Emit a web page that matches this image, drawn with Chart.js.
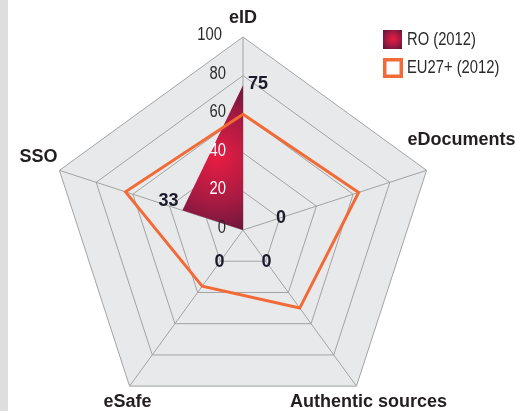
<!DOCTYPE html>
<html>
<head>
<meta charset="utf-8">
<script src="https://cdn.jsdelivr.net/npm/chart.js@4/dist/chart.umd.min.js"></script>
<style>
  html, body { margin: 0; padding: 0; }
  body { width: 515px; height: 411px; overflow: hidden;
         background: linear-gradient(to right, #dedede 8px, #ffffff 8px); }
  #wrap { position: relative; width: 515px; height: 411px; }
  canvas { display: block; }
</style>
</head>
<body>
<div id="wrap"><canvas id="radar" width="515" height="411"></canvas></div>
<script>
// datos
const categorias = ['eID', 'eDocuments', 'Authentic sources', 'eSafe', 'SSO'];
const valoresRO = [75, 0, 0, 0, 33];
const valoresEU = [60, 63, 50, 36, 64];
const series = ['RO (2012)', 'EU27+ (2012)'];
const ticksEje = [0, 20, 40, 60, 80, 100];

const SANS = '"Liberation Sans", Arial, sans-serif';

function gradienteRO(ctx, cx, cy, rad) {
    const g = ctx.createRadialGradient(cx, cy, 0, cx, cy, rad);
    g.addColorStop(0, '#e81d43');
    g.addColorStop(0.55, '#a81a42');
    g.addColorStop(1, '#65173b');
    return g;
}

// texto estrecho (no hay fuente narrow instalada)
function textoEstrecho(ctx, txt, x, y) {
    ctx.save();
    ctx.translate(x, y);
    ctx.scale(0.82, 1);
    ctx.fillText(txt, 0, 0);
    ctx.restore();
}

// etiquetas, ticks y leyenda dibujados a mano
const etiquetasPlugin = {
    id: 'etiquetas',
    afterDatasetsDraw(chart) {
        const ctx = chart.ctx;
        const r = chart.scales.r;
        ctx.save();

        // ticks del eje
        ctx.font = '18px ' + SANS;
        ctx.textAlign = 'right';
        ctx.textBaseline = 'middle';
        r.ticks.forEach(t => {
            const d = r.getDistanceFromCenterForValue(t.value);
            ctx.fillStyle = (t.value === 20 || t.value === 40) ? '#ffffff' : '#2a2a2a';
            const dx = t.value === 100 ? 21 : 17;
            textoEstrecho(ctx, String(t.value), r.xCenter - dx, r.yCenter - d - 2);
        });

        // nombres de los ejes
        const offs = [[0, -19], [35, -30], [12, 16], [-2, 16], [-21, -13]];
        ctx.font = 'bold 18px ' + SANS;
        ctx.fillStyle = '#231f20';
        ctx.textAlign = 'center';
        chart.data.labels.forEach((lab, i) => {
            const p = r.getPointPosition(i, r.drawingArea);
            ctx.fillText(lab, p.x + offs[i][0], p.y + offs[i][1]);
        });

        // valores RO
        ctx.fillStyle = '#1b1b2b';
        valoresRO.forEach((v, i) => {
            if (v === 0) {
                const p = r.getPointPosition(i, 40);
                ctx.textAlign = 'center';
                ctx.fillText('0', p.x, p.y);
            } else {
                const p = r.getPointPositionForValue(i, v);
                if (p.x >= r.xCenter) {
                    ctx.textAlign = 'left';
                    ctx.fillText(String(v), p.x + 5, p.y - 1);
                } else {
                    ctx.textAlign = 'right';
                    ctx.fillText(String(v), p.x - 4, p.y - 9);
                }
            }
        });

        // leyenda
        const lx = chart.width - 132;
        ctx.fillStyle = gradienteRO(ctx, lx + 10, 39, 12);
        ctx.fillRect(lx, 30, 19, 19);
        ctx.fillStyle = '#ffffff';
        ctx.fillRect(lx, 58, 20, 20);
        ctx.strokeStyle = '#f26a36';
        ctx.lineWidth = 3.5;
        ctx.strokeRect(lx + 1.75, 59.75, 16.5, 16.5);
        ctx.font = '18px ' + SANS;
        ctx.fillStyle = '#2a2a2a';
        ctx.textAlign = 'left';
        textoEstrecho(ctx, chart.data.datasets[0].label, lx + 24, 40);
        textoEstrecho(ctx, chart.data.datasets[1].label, lx + 24, 68);
        ctx.restore();
    }
};

new Chart(document.getElementById('radar'), {
    type: 'radar',
    data: {
        labels: categorias,
        datasets: [{
            label: series[0],
            data: valoresRO,
            backgroundColor: function (c) {
                const r = c.chart.scales.r;
                if (!r || !isFinite(r.xCenter) || !isFinite(r.yCenter)) return '#8a1a40';
                return gradienteRO(c.chart.ctx, r.xCenter - 26, r.yCenter - 72, 80);
            },
            borderWidth: 0,
            pointRadius: 0,
            fill: true,
            order: 1
        }, {
            label: series[1],
            data: valoresEU,
            borderColor: '#f26a36',
            borderWidth: 3,
            backgroundColor: 'rgba(0,0,0,0)',
            pointRadius: 0,
            fill: false,
            order: 0
        }]
    },
    options: {
        responsive: false,
        animation: false,
        devicePixelRatio: 1,
        layout: { padding: { left: 50, right: 79, top: 37, bottom: 0 } },
        plugins: { legend: { display: false }, tooltip: { enabled: false } },
        elements: { line: { tension: 0, borderJoinStyle: 'miter' } },
        scales: {
            r: {
                min: ticksEje[0],
                max: ticksEje[ticksEje.length - 1],
                backgroundColor: '#e8e9eb',
                ticks: { stepSize: 20, display: false },
                grid: { color: '#a3a3a3', lineWidth: 1 },
                angleLines: { color: '#a3a3a3', lineWidth: 1 },
                pointLabels: { display: false },
                // el pentagono usa todo el ancho y baja mas que el area
                afterFit: function (s) {
                    s.drawingArea = Math.floor(s.width / 2);
                    s.yCenter = s.top + s.drawingArea;
                }
            }
        }
    },
    plugins: [etiquetasPlugin]
});
</script>
</body>
</html>
